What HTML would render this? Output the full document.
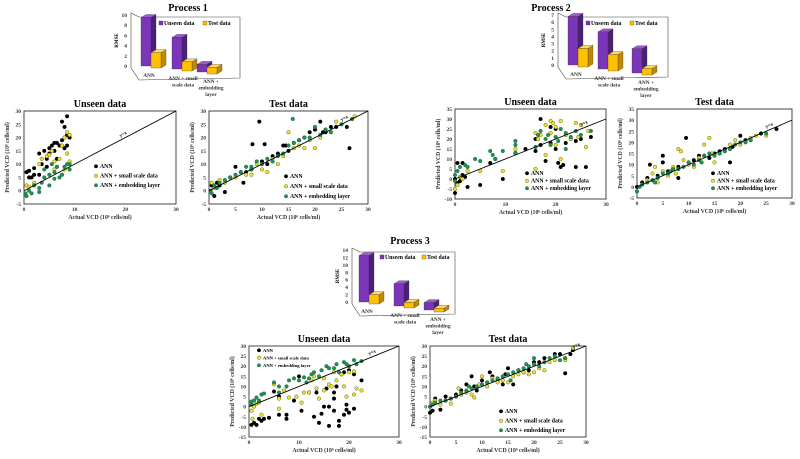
<!DOCTYPE html>
<html><head><meta charset="utf-8"><style>
html,body{margin:0;padding:0;background:#fff;width:800px;height:459px;overflow:hidden}
svg{display:block;font-family:"Liberation Serif",serif;font-weight:bold}
</style></head><body>
<svg id="fig" width="800" height="459" viewBox="0 0 800 459" xmlns="http://www.w3.org/2000/svg"></svg>
<script>
// ---------- data ----------
const barCats = ["ANN", "ANN + small|scale data", "ANN + |embedding|layer"];
const p1Unseen = [9.5, 6.2, 1.5], p1Test = [3, 1.8, 1.3];
const p2Unseen = [6.8, 5.2, 3.4], p2Test = [2.6, 2.3, 0.9];
const p3Unseen = [12.5, 6, 2], p3Test = [2.5, 1.5, 1];
const p1BarTicks = [0,2,4,6,8,10], p2BarTicks = [0,1,2,3,4,5,6,7], p3BarTicks = [0,2,4,6,8,10,12,14];
const xTicks30 = [0,10,20,30], xTicks5 = [0,5,10,15,20,25,30];
const yTicks1 = [-5,0,5,10,15,20,25,30], yTicks2 = [-10,-5,0,5,10,15,20,25,30,35], yTicks2t = [-5,0,5,10,15,20,25,30,35], yTicks3 = [-15,-10,-5,0,5,10,15,20,25,30];
const seriesNames = ["ANN", "ANN + small scale data", "ANN + embedding layer"];

const p1uAnn = [[0.5,7],[1,7.5],[1,5],[1.5,5],[2,8.5],[2,6],[3,14],[3,6],[3.5,10],[4,15],[4.5,12],[5,14],[5,16],[5.5,17],[6,15],[6,18],[6.5,18],[7,17],[7.5,19],[7.5,26],[8,20],[8,24],[8.5,21],[8.5,28],[9,20],[8.5,17],[8,16],[6.5,12],[4.5,9]];
const p1uSmall = [[0.5,2],[1,1.5],[2,3],[3,10],[3.5,12],[4.5,13],[5,13.5],[5.5,15],[6,11],[6.5,9],[7,12],[7.5,17],[8,20],[8.5,22],[9,21],[8.5,14],[9,11],[8,8],[6,8],[2,2],[5,6]];
const p1uEmb = [[0.3,-1],[0.5,-2],[1,0],[1.5,-1],[2,2],[3,1],[3.5,3],[4,5],[4,8],[5,2],[5,6],[5.5,10],[6,7],[6.5,9],[7,5],[7.5,6],[8,9],[8.5,10],[9,8],[9,10],[3,-0.5],[6,4.5]];
const p1tAnn = [[0.5,2],[1,-2],[1.5,3],[3,-0.5],[5,9],[6.5,3],[8,8],[8.2,17.5],[9.5,26],[10,11],[10.5,17.5],[11,10],[12,13],[13,14],[14,17],[14.5,17],[15,15],[16,18],[17,19],[18,20],[19,22],[20,23],[21,26],[21.5,22],[22,22],[23,24],[24,24],[26,24],[26.5,16],[27,27],[4,5],[7,7],[2,2]];
const p1tSmall = [[0.5,3],[1,1],[2,4],[3,3],[4,5],[5,5],[6,7],[7,6],[8,6],[9,10],[10,8],[11,7],[12,12],[13,10],[14,13],[15,22],[16,16],[17,17],[18,16],[19,19],[20,16],[21,20],[22,23],[23,22],[24,26],[25,25],[27,27],[27.5,28]];
const p1tEmb = [[0.3,0],[0.5,-1],[1,2],[2,3],[3,4],[4,5],[5,6],[6,7],[7,9],[8,9],[9,11],[10,10],[11,12],[12,11],[13,13],[14,14],[15,17],[15.8,27],[16,18],[17,19],[18,20],[19,20],[20,24],[21,21],[22,23],[23,22],[25,25],[27,27],[1.5,1],[8,8]];
const p2uAnn = [[0,-7],[0,0],[0.5,8],[0.5,-2],[1,-1],[1.5,2],[1.5,8],[2,1],[2.5,-4],[5,-3],[7,8],[8,10],[9.5,0],[12,13],[14,15],[16,14],[16,20],[17,30],[17,17],[18,9],[19,26],[19,18],[20,25],[20.5,8],[21,6],[21.5,7],[22,18],[23,20],[24,19],[24,6],[25,20],[26,6],[27,21],[20,15]];
const p2uSmall = [[0,-5],[0.5,-3],[1,1],[1.5,0],[2.5,4],[5,4],[9.5,4],[12,15],[16,5],[16,23],[17,22],[18,12],[18,27],[19,29],[19.5,28],[20,26],[20,17],[21,10],[21,29],[22,22],[23,20],[24,28],[24.5,21],[25,27],[26,16],[26.5,24],[16.5,20],[19,23]];
const p2uEmb = [[0,2],[0,-1],[0.5,4],[1,6],[2,7],[2.5,6],[4,10],[5,9],[7,14],[7.5,12],[8,10],[9.5,14],[12,19],[12,17],[16,16],[16.5,22],[17,24],[18,20],[18.5,22],[19,17],[20,21],[20.5,19],[21,25],[22,23],[22,15],[23,21],[24,24],[25,22],[27,24],[12,13]];
const p2tAnn = [[0,0],[1,2],[2,4],[2.5,10],[4,5],[5,14],[5,11],[6,7],[7,8],[8,9],[8,4],[9.5,22],[10,11],[11,12],[12,14],[13,14],[14,13],[15,15],[16,16],[17,17],[18,11],[18.5,18],[20,23],[21,21],[22,21],[24,24],[27,26],[3,3]];
const p2tSmall = [[0,-2],[1,1],[2,3],[3,6],[3.5,9],[4,2],[5,7],[6,5],[7,9],[8,17],[8.5,16],[9,12],[10,10],[11,9],[12,13],[13,19],[14,22],[14.5,15],[15,11],[17,16],[18,19],[19,21],[20,19],[22,22],[23,23],[25,23],[7.5,6],[16,15]];
const p2tEmb = [[0,-2],[0.5,0],[1,1],[2,2],[3,3],[4,4],[5,6],[6,6],[7,8],[8,8],[9,9],[10,11],[11,10],[12,12],[13,14],[14,15],[15,14],[16,15],[17,16],[18,17],[19,19],[20,20],[21,20],[22,21],[25,24],[12.5,11],[6.5,7],[3.5,2]];
const p3uAnn = [[0.5,-9],[1,-8],[1.5,-9],[2,-6],[2.5,-7],[3,-6],[4,-5.5],[5,7.5],[6,-4],[6,5],[7.5,-4],[7.5,-6],[9,3],[10,15],[10.5,-2],[12,7],[13,-5],[13.5,7],[14,-8],[14.5,-3.5],[15,0],[15.5,9],[16,-9.5],[16,0],[17,-2],[17,7],[17.5,10],[18,-7],[18,-9.5],[18.5,16],[19,-4],[19,17],[19.5,-1.5],[19.5,1],[20,-3],[20,18],[21,-1],[21,16],[22.5,13],[17,4]];
const p3uSmall = [[0.5,-2],[0.7,-6],[1,0],[1.5,1.5],[2,2],[2.5,-4],[5,11],[6,4],[6,-1],[7,8],[8,4.5],[9.5,5],[10.5,2],[11,7],[12,7],[12.5,13],[13.5,9],[14,4],[15,8],[16,11],[16.5,10],[17,17],[17.5,13],[18.5,16],[19,10],[19.5,5],[20,17],[21,17.5],[21.5,9],[21,6],[22.5,8],[15,14],[13,15]];
const p3uEmb = [[0.5,1],[0.5,2.5],[1,3],[1.5,4.5],[2,3],[2.5,6],[3,6.5],[5,12],[6,7],[6,10],[7.5,10],[8,13],[9,14],[10,13],[11,14.5],[12,14],[12.5,16],[13,17],[14.5,18],[15.5,20],[16,19],[17,19],[17.5,21],[18,17],[19,22],[19.5,21],[20,20],[21,23],[21.5,21],[22.5,22.5],[11.5,12],[14,15]];
const p3tAnn = [[0,-3],[0.5,-2],[1,4],[2,-1.5],[3,5],[4,4],[5,6],[6,8],[7,11],[8,15],[8.5,10],[9,8],[10,13],[11,12],[11.5,17],[12,15],[13,13],[14,11],[14.5,16],[15,19],[16,11],[17,18],[18,17],[19,18],[20,22],[21,22],[22,24],[24,26],[25,26],[26,24],[26,16.5],[27,26],[27.5,28]];
const p3tSmall = [[0,0],[0.5,2],[1,3],[2,1],[3,3],[4,1.5],[5,5],[5.5,9],[6,6],[7,7],[8,6],[8.5,4.5],[9.5,11],[10,15],[11,10],[12,14],[13,12],[14,13],[15,12],[16,15],[17,16],[18,17],[19,16],[20,17],[21,19],[22,18],[23,22],[24,23],[26,23],[27.5,29]];
const p3tEmb = [[0,0],[0.5,1],[1,2],[2,3],[3,3],[4,4],[5,5],[6,7],[7,8],[8,9],[9,10],[10,11],[11,12],[12,13],[13,14],[14,15],[15,16],[16,17],[17,18],[18,19],[19,20],[20,21],[21,20],[22,22],[23,24],[24,25],[25,23],[26,24],[7.5,10],[15.5,13],[18.5,21],[20,24]];

// ---------- drawing ----------
const NS = "http://www.w3.org/2000/svg";
const svg = document.getElementById("fig");
function el(tag, attrs, parent, text) {
  const e = document.createElementNS(NS, tag);
  for (const k in attrs) e.setAttribute(k, attrs[k]);
  if (text !== undefined) e.textContent = text;
  (parent || svg).appendChild(e);
  return e;
}
const COLORS = [{f:"#000",s:"#000"},{f:"#eee42a",s:"#6e6e10"},{f:"#139850",s:"#2f5f48"}];

function scatter(c) {
  const g = el("g", {});
  
  
  const sx = v => c.px0 + (v - c.xmin) / (c.xmax - c.xmin) * (c.px1 - c.px0);
  const sy = v => c.py1 - (v - c.ymin) / (c.ymax - c.ymin) * (c.py1 - c.py0);
  const frame = el("rect", {x:c.px0, y:c.py0, width:c.px1-c.px0, height:c.py1-c.py0, fill:"#fff", stroke:"#333", "stroke-width":0.9}, g);
  
  
  const t = el("text", {x:(c.px0+c.px1)/2, y:c.py0-4, "font-size":10, "text-anchor":"middle"}, g, c.title);
  
  
  c.xticks.forEach(v => {
    const tx = el("text", {x:sx(v), y:c.py1+7, "font-size":5.5, "text-anchor":"middle", fill:"#333"}, g, v);
    
    
  });
  c.yticks.forEach(v => {
    const ty = el("text", {x:c.px0-3, y:sy(v)+2, "font-size":5.5, "text-anchor":"end", fill:"#333"}, g, v);
    
    
  });
  const xl = el("text", {x:(c.px0+c.px1)/2, y:c.py1+15, "font-size":5.8, "text-anchor":"middle", fill:"#333"}, g, "Actual VCD (10⁶ cells/ml)");
  
  
  const yc = (c.py0+c.py1)/2, yx = c.px0-15;
  const yl = el("text", {x:yx, y:yc, "font-size":5.8, "text-anchor":"middle", fill:"#333", transform:`rotate(-90 ${yx} ${yc})`}, g, "Predicted VCD (10⁶ cells/ml)");
  
  
  c.series.forEach((s, i) => {
    s.forEach(p => {
      const d = el("circle", {cx:sx(p[0]), cy:sy(p[1]), r:1.8, fill:COLORS[i].f, stroke:COLORS[i].s, "stroke-width":0.5}, g);
      
      
    });
  });
  const ln = el("line", {x1:sx(0), y1:sy(0), x2:sx(30), y2:sy(30), stroke:"#000", "stroke-width":0.9}, g);
  
  
  const ang = Math.atan2(sy(30)-sy(0), sx(30)-sx(0)) * 180 / Math.PI;
  const lx = sx(c.yxAt) , ly = sy(c.yxAt) - 3;
  const yxl = el("text", {x:lx, y:ly, "font-size":5, transform:`rotate(${ang} ${lx} ${ly})`}, g, "y=x");
  
  
  c.series.forEach((s, i) => {
    const ly2 = c.leg[1] + i * c.leg[2];
    const lg = el("g", {}, g);
    
    
    el("circle", {cx:c.leg[0], cy:ly2-1.7, r:1.7, fill:COLORS[i].f, stroke:COLORS[i].s, "stroke-width":0.5}, lg);
    el("text", {x:c.leg[0]+4, y:ly2, "font-size":c.leg[3]}, lg, seriesNames[i]);
  });
}

function bars(c) {
  const g = el("g", {});
  
  
  const t = el("text", {x:c.tx, y:c.ty, "font-size":10, "text-anchor":"middle"}, g, c.title);
  
  
  const k = (c.base - c.top) / c.max;
  el("polygon", {points:`${c.wx0},${c.top-2} ${c.wx0+8},${c.top+2} ${c.wx1},${c.top+2} ${c.wx1},${c.base+12} ${c.wx0+8},${c.base+14} ${c.wx0},${c.base+2}`, fill:"#fff", stroke:"#444", "stroke-width":0.6}, g);
  c.ticks.forEach(v => {
    const tk = el("text", {x:c.wx0-4, y:c.base - v*k + 2, "font-size":5.5, "text-anchor":"end", fill:"#333"}, g, v);
    
    
  });
  const yl = el("text", {x:c.wx0-13, y:(c.top+c.base)/2, "font-size":5, "text-anchor":"middle", transform:`rotate(-90 ${c.wx0-13} ${(c.top+c.base)/2})`}, g, "RMSE");
  
  
  const draw3d = (x, b, v, front, side, topc, nm) => {
    const y = b - v * k, w = 10, dx = 5, dy = 3;
    const bg = el("g", {}, g);
    
    
    el("polygon", {points:`${x+w},${y} ${x+w+dx},${y-dy} ${x+w+dx},${b-dy} ${x+w},${b}`, fill:side, stroke:"#333", "stroke-width":0.3}, bg);
    el("polygon", {points:`${x},${y} ${x+dx},${y-dy} ${x+w+dx},${y-dy} ${x+w},${y}`, fill:topc, stroke:"#333", "stroke-width":0.3}, bg);
    el("rect", {x:x, y:y, width:w, height:b-y, fill:front, stroke:"#333", "stroke-width":0.3}, bg);
  };
  barCats.forEach((cat, i) => {
    const x = c.cx[i], b = c.base + i * c.slope;
    draw3d(x, b, c.unseen[i], "#7a35b8", "#4c1f78", "#9a5ad0", "bar-unseen-" + i);
    draw3d(x + 10, b + 2, c.test[i], "#ffc000", "#c08a00", "#ffd960", "bar-test-" + i);
    cat.split("|").forEach((ln, j) => {
      const ct = el("text", {x:x + 8 + i*3, y:b + 11 + j*6.5, "font-size":5.3, "text-anchor":"middle", fill:"#333"}, g, ln);
      
      
    });
  });
  [["#7a35b8","Unseen data"],["#ffc000","Test data"]].forEach((e, i) => {
    const lg = el("g", {}, g);
    
    
    const x = c.leg[0] + i * c.leg[2];
    el("rect", {x:x, y:c.leg[1]-4, width:4, height:4, fill:e[0], stroke:"#333", "stroke-width":0.3}, lg);
    el("text", {x:x+5, y:c.leg[1], "font-size":5.8}, lg, e[1]);
  });
}

bars({name:"process-1-rmse-chart", title:"Process 1", tx:188, ty:11, wx0:131, wx1:240, top:15, base:66, max:10, ticks:p1BarTicks, unseen:p1Unseen, test:p1Test, cx:[141,172,197], slope:3, leg:[159,25,44]});
bars({name:"process-2-rmse-chart", title:"Process 2", tx:551, ty:11, wx0:558, wx1:668, top:15, base:65, max:7, ticks:p2BarTicks, unseen:p2Unseen, test:p2Test, cx:[568,598,632], slope:4, leg:[586,25,44]});
bars({name:"process-3-rmse-chart", title:"Process 3", tx:410, ty:244, wx0:352, wx1:455, top:250, base:302, max:14, ticks:p3BarTicks, unseen:p3Unseen, test:p3Test, cx:[359,394,424], slope:4, leg:[380,259,42]});

scatter({name:"p1-unseen-scatter", title:"Unseen data", px0:24, px1:176, py0:111, py1:204, xmin:0, xmax:30, ymin:-5, ymax:30, xticks:xTicks30, yticks:yTicks1, series:[p1uAnn,p1uSmall,p1uEmb], leg:[96,168,9.5,5.8], yxAt:19});
scatter({name:"p1-test-scatter", title:"Test data", px0:209, px1:368, py0:111, py1:204, xmin:0, xmax:30, ymin:-5, ymax:30, xticks:xTicks5, yticks:yTicks1, series:[p1tAnn,p1tSmall,p1tEmb], leg:[286,178,10,5.8], yxAt:25});
scatter({name:"p2-unseen-scatter", title:"Unseen data", px0:455, px1:606, py0:109, py1:199, xmin:0, xmax:30, ymin:-10, ymax:35, xticks:xTicks30, yticks:yTicks2, series:[p2uAnn,p2uSmall,p2uEmb], leg:[527,175,7.5,5.8], yxAt:25});
scatter({name:"p2-test-scatter", title:"Test data", px0:637, px1:792, py0:109, py1:198, xmin:0, xmax:30, ymin:-5, ymax:35, xticks:xTicks5, yticks:yTicks2t, series:[p2tAnn,p2tSmall,p2tEmb], leg:[713,175,7.5,5.8], yxAt:25});
scatter({name:"p3-unseen-scatter", title:"Unseen data", px0:249, px1:399, py0:346, py1:437, xmin:0, xmax:30, ymin:-15, ymax:30, xticks:xTicks30, yticks:yTicks3, series:[p3uAnn,p3uSmall,p3uEmb], leg:[259,352,7.5,4.6], yxAt:24});
scatter({name:"p3-test-scatter", title:"Test data", px0:430, px1:586, py0:346, py1:437, xmin:0, xmax:30, ymin:-15, ymax:30, xticks:xTicks5, yticks:yTicks3, series:[p3tAnn,p3tSmall,p3tEmb], leg:[501,413,9.5,5.8], yxAt:27.5});
</script>
</body></html>
